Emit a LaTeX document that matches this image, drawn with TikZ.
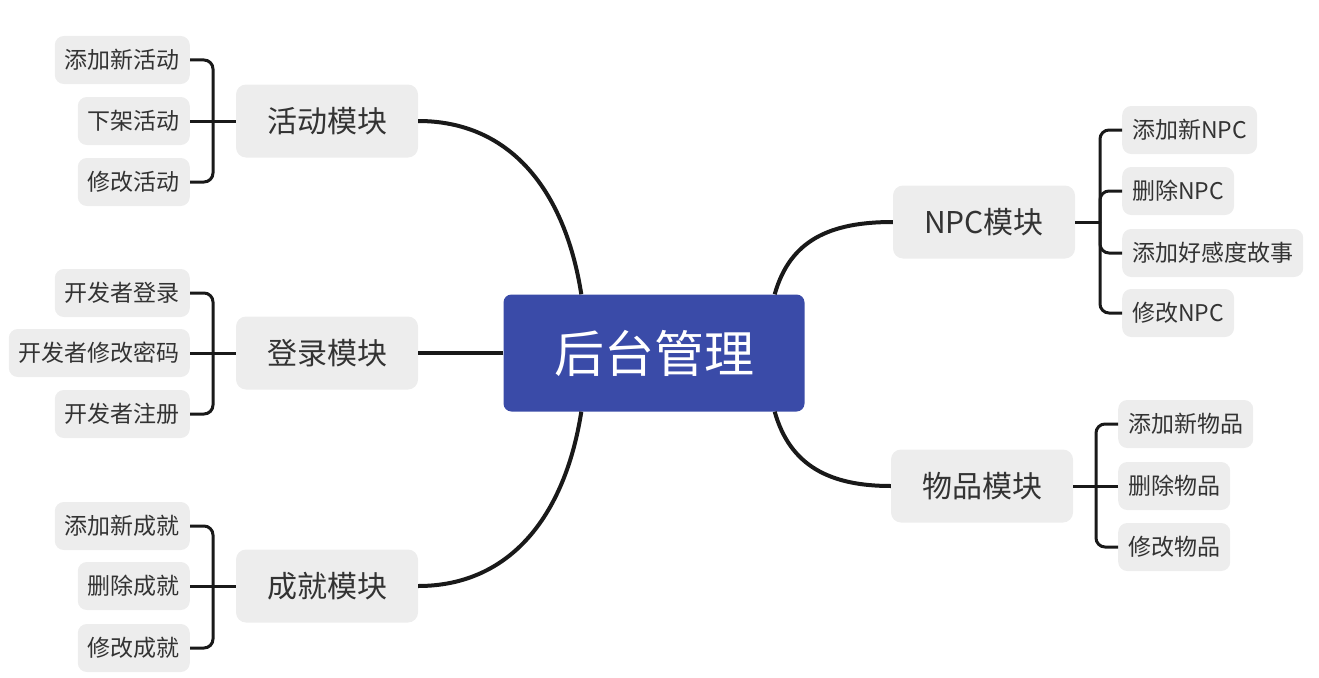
\documentclass[tikz,border=0pt]{standalone}
\usepackage{fontspec}
\newfontfamily\cjk{Noto Sans CJK SC}
\usetikzlibrary{positioning}
\definecolor{rootblue}{RGB}{58,75,168}
\definecolor{boxgray}{RGB}{237,237,237}
\definecolor{inkgray}{RGB}{51,51,51}
\begin{document}
\begin{tikzpicture}[
  x=1pt,y=-1pt,
  root/.style={fill=rootblue,text=white,rounded corners=8pt,minimum width=301pt,minimum height=117pt,font=\cjk\fontsize{50}{60}\selectfont},
  topic/.style={fill=boxgray,text=inkgray,rounded corners=10pt,minimum width=182pt,minimum height=73pt,font=\cjk\fontsize{30}{36}\selectfont},
  leaf/.style={fill=boxgray,text=inkgray,rounded corners=9pt,minimum height=48pt,inner xsep=10pt,font=\cjk\fontsize{23}{28}\selectfont},
  trunk/.style={line width=4pt,draw=black!90},
  twig/.style={line width=3pt,draw=black!90,rounded corners=9pt}
]
  \useasboundingbox (0,0) rectangle (1319,677);
  \node[root] (root) at (654,353) {后台管理};
  \node[topic] (act) at (327,121) {活动模块};
  \node[topic] (log) at (327,353) {登录模块};
  \node[topic] (ach) at (327,586) {成就模块};
  \node[topic] (npc) at (984,222) {NPC模块};
  \node[topic] (item) at (982,486) {物品模块};
  \node[leaf,anchor=east] (a1) at (190,60) {添加新活动};
  \node[leaf,anchor=east] (a2) at (190,121) {下架活动};
  \node[leaf,anchor=east] (a3) at (190,182) {修改活动};
  \node[leaf,anchor=east] (l1) at (190,293) {开发者登录};
  \node[leaf,anchor=east] (l2) at (190,353) {开发者修改密码};
  \node[leaf,anchor=east] (l3) at (190,414) {开发者注册};
  \node[leaf,anchor=east] (c1) at (190,526) {添加新成就};
  \node[leaf,anchor=east] (c2) at (190,586) {删除成就};
  \node[leaf,anchor=east] (c3) at (190,648) {修改成就};
  \node[leaf,anchor=west] (n1) at (1122,130) {添加新NPC};
  \node[leaf,anchor=west] (n2) at (1122,191) {删除NPC};
  \node[leaf,anchor=west] (n3) at (1122,253) {添加好感度故事};
  \node[leaf,anchor=west] (n4) at (1122,313) {修改NPC};
  \node[leaf,anchor=west] (i1) at (1118,424) {添加新物品};
  \node[leaf,anchor=west] (i2) at (1118,486) {删除物品};
  \node[leaf,anchor=west] (i3) at (1118,547) {修改物品};
  \coordinate (jact) at (213,121);
  \coordinate (jlog) at (213,353);
  \coordinate (jach) at (213,586);
  \coordinate (jnpc) at (1100,222);
  \coordinate (jitem) at (1096,486);
  \draw[trunk] ([xshift=78pt]root.north west) .. controls (565,190) and (510,121) .. (act.east);
  \draw[trunk] (root.west) -- (log.east);
  \draw[trunk] ([xshift=78pt]root.south west) .. controls (565,516) and (510,586) .. (ach.east);
  \draw[trunk] ([xshift=-30pt]root.north east) .. controls (790,240) and (830,222) .. (npc.west);
  \draw[trunk] ([xshift=-30pt]root.south east) .. controls (790,466) and (830,486) .. (item.west);
  \draw[twig] (act.west) -- (jact);
  \draw[twig] (a1.east) -| (jact);
  \draw[twig] (a2.east) -- (jact);
  \draw[twig] (a3.east) -| (jact);
  \draw[twig] (log.west) -- (jlog);
  \draw[twig] (l1.east) -| (jlog);
  \draw[twig] (l2.east) -- (jlog);
  \draw[twig] (l3.east) -| (jlog);
  \draw[twig] (ach.west) -- (jach);
  \draw[twig] (c1.east) -| (jach);
  \draw[twig] (c2.east) -- (jach);
  \draw[twig] (c3.east) -| (jach);
  \draw[twig] (npc.east) -- (jnpc);
  \draw[twig] (n1.west) -| (jnpc);
  \draw[twig] (n2.west) -| (jnpc);
  \draw[twig] (n3.west) -| (jnpc);
  \draw[twig] (n4.west) -| (jnpc);
  \draw[twig] (item.east) -- (jitem);
  \draw[twig] (i1.west) -| (jitem);
  \draw[twig] (i2.west) -- (jitem);
  \draw[twig] (i3.west) -| (jitem);
\end{tikzpicture}
\end{document}
